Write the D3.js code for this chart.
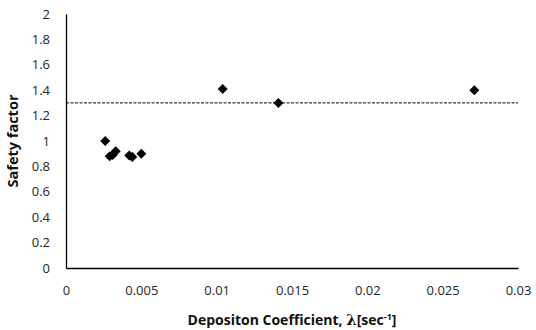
<!DOCTYPE html>
<html>
<head>
<meta charset="utf-8">
<script src="https://cdn.jsdelivr.net/npm/d3@7"></script>
<style>
  body { margin: 0; background: #fff; }
  svg text { font-family: "Open Sans", sans-serif; }
</style>
</head>
<body>
<div id="chart"></div>
<script>
// values
const lambda = [0.0026, 0.0029, 0.0031, 0.0033, 0.0042, 0.0044, 0.0050, 0.0104, 0.0141, 0.0271];
const safety = [1.00, 0.88, 0.89, 0.92, 0.885, 0.875, 0.90, 1.41, 1.30, 1.40];
const xTicks = [0, 0.005, 0.01, 0.015, 0.02, 0.025, 0.03];
const yTicks = [0, 0.2, 0.4, 0.6, 0.8, 1, 1.2, 1.4, 1.6, 1.8, 2];
const threshold = 1.3;

const width = 536, height = 330;
const margin = { top: 14, right: 18, bottom: 62, left: 66 };

const svg = d3.select('#chart').append('svg')
    .attr('width', width)
    .attr('height', height);

const x = d3.scaleLinear()
    .domain([0, 0.03])
    .range([margin.left, width - margin.right]);

const y = d3.scaleLinear()
    .domain([0, 2])
    .range([height - margin.bottom, margin.top]);

// y axis
const yAxis = svg.append('g')
    .attr('transform', `translate(${margin.left},0)`)
    .call(d3.axisLeft(y).tickValues(yTicks).tickSize(0).tickPadding(16).tickFormat(d3.format('')));
yAxis.select('.domain').attr('stroke', '#000').attr('stroke-width', 1.3);
yAxis.selectAll('text').attr('font-size', 13).attr('fill', '#262626');

// x axis
const xAxis = svg.append('g')
    .attr('transform', `translate(0,${y(0)})`)
    .call(d3.axisBottom(x).tickValues(xTicks).tickSize(0).tickPadding(18).tickFormat(d3.format('')));
xAxis.select('.domain').attr('stroke', '#000').attr('stroke-width', 1.3);
xAxis.selectAll('text').attr('font-size', 13).attr('fill', '#262626');

// threshold line
svg.append('line')
    .attr('x1', x(0))
    .attr('x2', x(0.03))
    .attr('y1', y(threshold))
    .attr('y2', y(threshold))
    .attr('stroke', '#000')
    .attr('stroke-width', 1)
    .attr('stroke-dasharray', '3,1.5');

// points
svg.append('g')
  .selectAll('path')
    .data(lambda)
  .enter().append('path')
    .attr('transform', (d, i) => `translate(${x(d)},${y(safety[i])})`)
    .attr('d', d3.symbol(d3.symbolDiamond2, 64))
    .attr('fill', '#000');

// axis titles
const xTitle = svg.append('text')
    .attr('x', (x(0) + x(0.03)) / 2)
    .attr('y', 325)
    .attr('text-anchor', 'middle')
    .attr('font-size', 14)
    .attr('font-weight', 'bold')
    .attr('fill', '#111');
xTitle.append('tspan').text('Depositon Coefficient, ');
xTitle.append('tspan').attr('font-family', 'DejaVu Serif').attr('font-size', 15).text('λ');
xTitle.append('tspan').text('[sec');
xTitle.append('tspan').attr('font-size', 9).attr('dy', -5).text('-1');
xTitle.append('tspan').attr('dy', 5).text(']');

svg.append('text')
    .attr('transform', `translate(18,${(y(0) + y(2)) / 2}) rotate(-90)`)
    .attr('text-anchor', 'middle')
    .attr('font-size', 14.5)
    .attr('font-weight', 'bold')
    .attr('fill', '#111')
    .text('Safety factor');
</script>
</body>
</html>
